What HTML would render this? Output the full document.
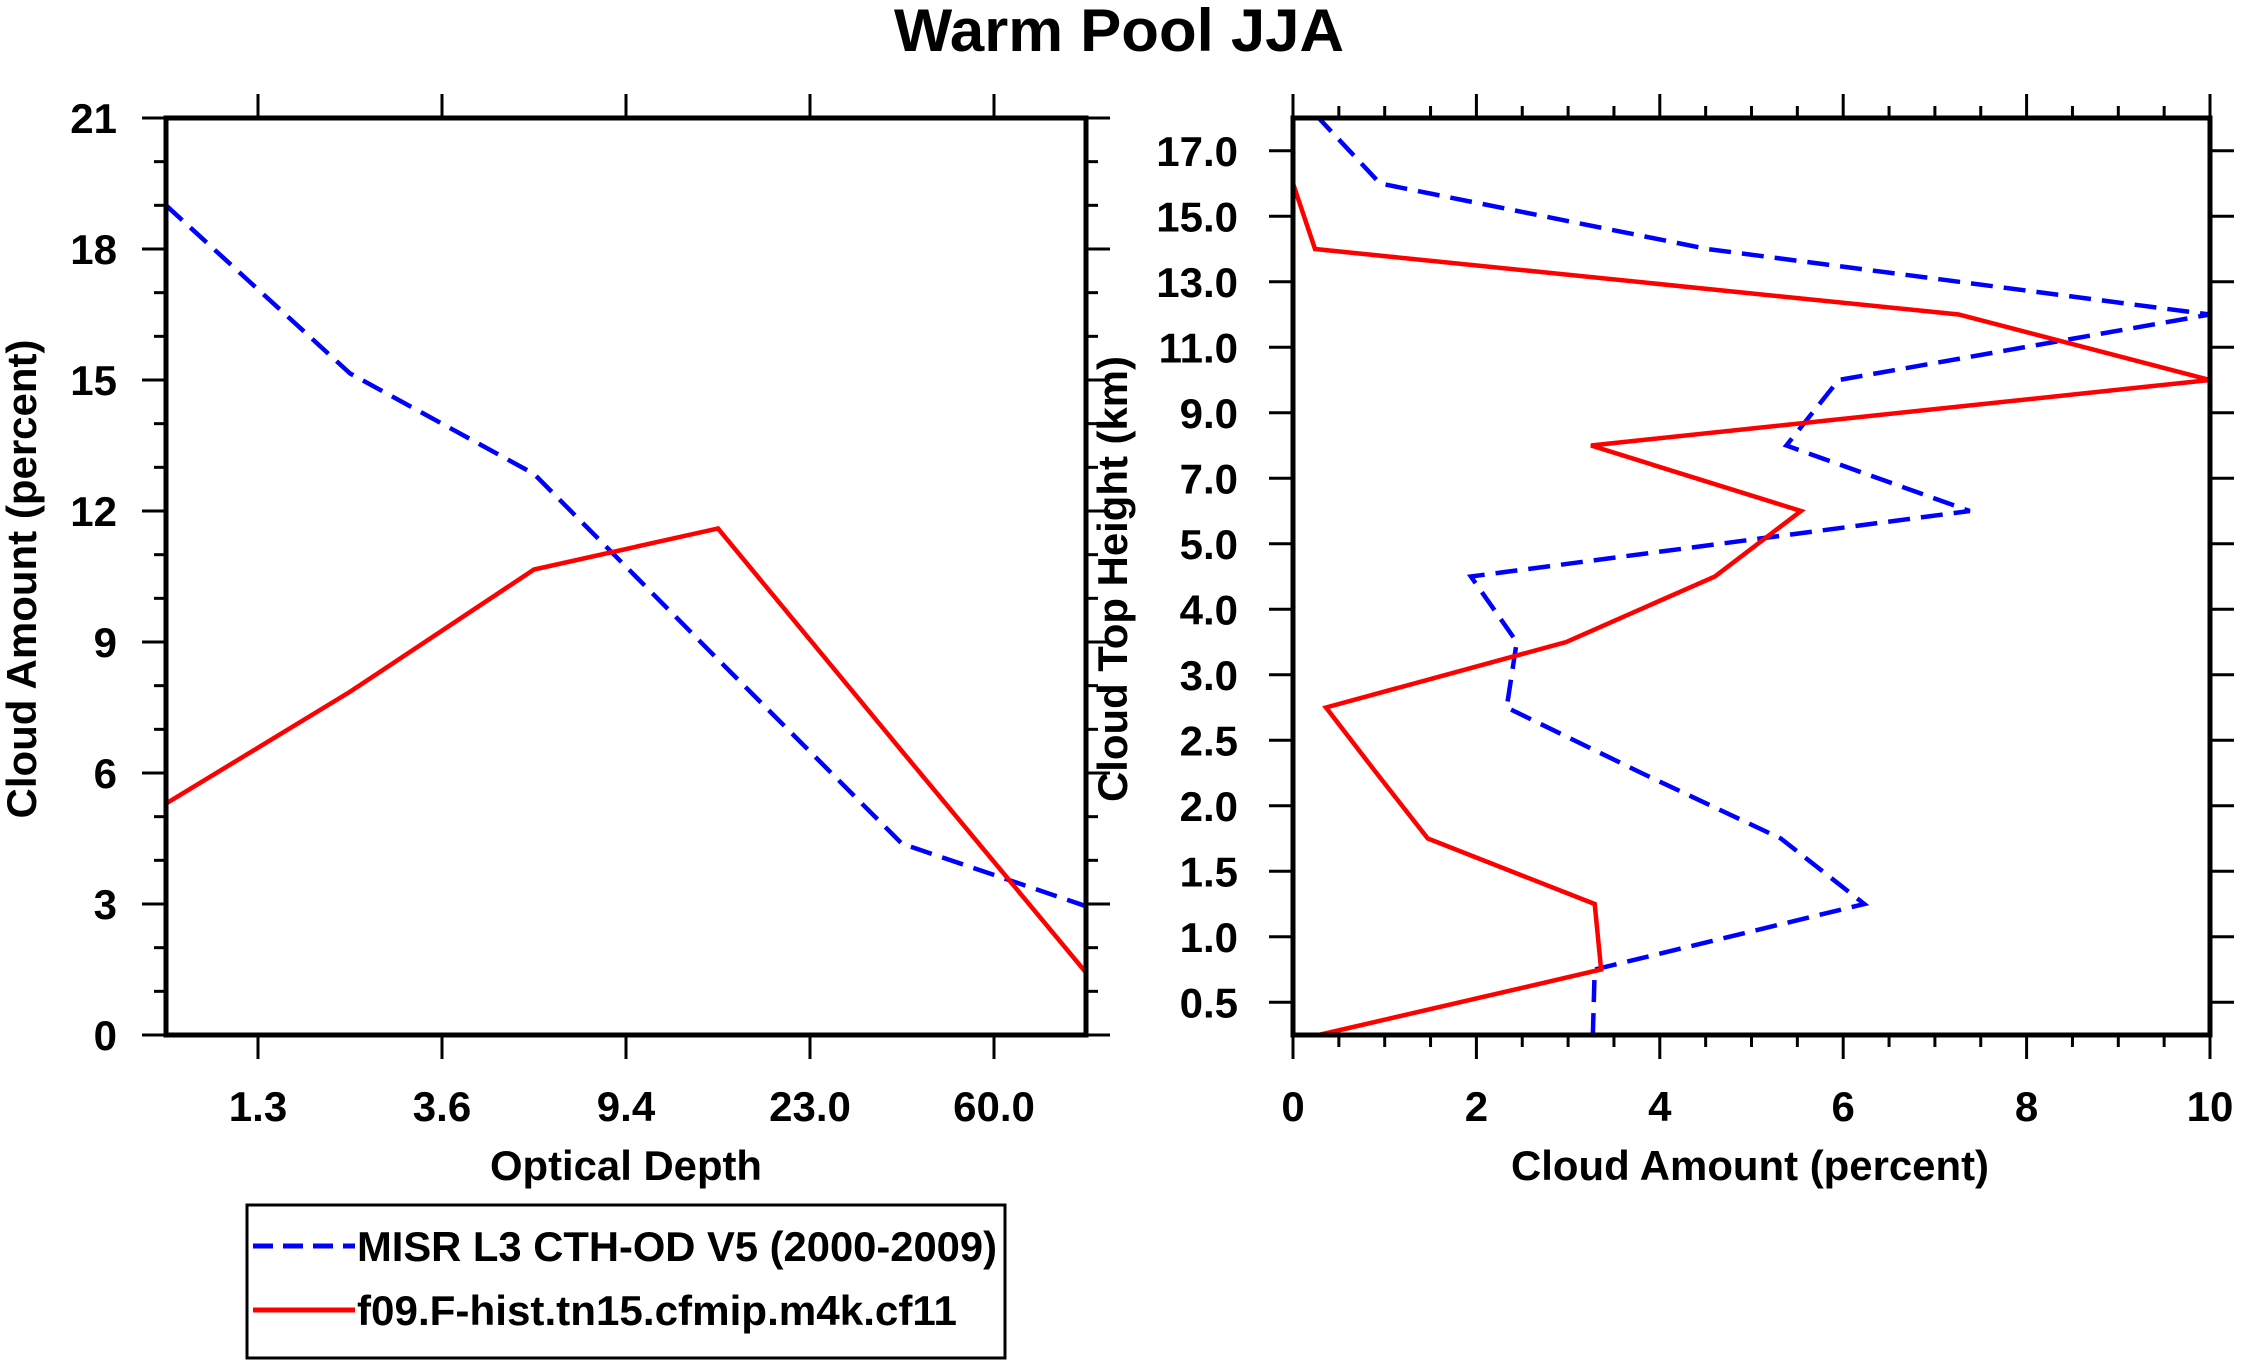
<!DOCTYPE html>
<html><head><meta charset="utf-8"><style>
html,body{margin:0;padding:0;background:#fff;}
svg{display:block;font-family:"Liberation Sans",Arial,sans-serif;font-weight:bold;}
</style></head><body>
<svg id="chart" width="2241" height="1366" viewBox="0 0 2241 1366" xmlns="http://www.w3.org/2000/svg">
<text x="1119" y="51" text-anchor="middle" font-size="60" textLength="450" lengthAdjust="spacingAndGlyphs">Warm Pool JJA</text>
<g id="left"></g>
<g id="right"></g>
<g>
<rect x="247" y="1205" width="758" height="153" fill="none" stroke="#000" stroke-width="3"/>
<line x1="253" y1="1246" x2="355" y2="1246" stroke="#0000ff" stroke-width="5" stroke-dasharray="20,10"/>
<text x="357" y="1261" font-size="42" textLength="640" lengthAdjust="spacingAndGlyphs">MISR L3 CTH-OD V5 (2000-2009)</text>
<line x1="253" y1="1310" x2="355" y2="1310" stroke="#ff0000" stroke-width="5"/>
<text x="357" y="1325" font-size="42" textLength="600" lengthAdjust="spacingAndGlyphs">f09.F-hist.tn15.cfmip.m4k.cf11</text>
</g>
</svg>
<script>
// Left panel data
const odLabels = ['1.3','3.6','9.4','23.0','60.0'];
const odMisr = [19.0, 15.15, 12.85, 8.6, 4.38, 2.95];
const odModel = [5.3, 7.86, 10.66, 11.6, 6.5, 1.43];
const leftYTicks = [0,3,6,9,12,15,18,21];
// Right panel data
const cthLabels = ['0.5','1.0','1.5','2.0','2.5','3.0','4.0','5.0','7.0','9.0','11.0','13.0','15.0','17.0'];
const cthMisr = [3.27,3.29,6.23,5.32,3.8,2.33,2.44,1.94,7.38,5.38,5.95,10.0,4.52,0.95,0.28];
const cthModel = [0.28,3.36,3.29,1.47,0.91,0.36,2.98,4.6,5.54,3.25,10.0,7.26,0.24,0.0,0.0];
const rightXTicks = [0,2,4,6,8,10];

const NS='http://www.w3.org/2000/svg';
function mk(parent,tag,attrs){const e=document.createElementNS(NS,tag);for(const k in attrs)e.setAttribute(k,attrs[k]);parent.appendChild(e);return e;}
function ln(p,x1,y1,x2,y2,w){return mk(p,'line',{x1:x1,y1:y1,x2:x2,y2:y2,stroke:'#000','stroke-width':w});}

const T=118,B=1035;
// ---------- left panel ----------
const L=document.getElementById('left');
const lx0=166,lx1=1086;
const lX=i=>lx0+i*(lx1-lx0)/(odMisr.length-1);
const lY=v=>B-v*(B-T)/21;
for(let v=0;v<=21;v++){
  const len=v%3===0?24:12;
  const t1=ln(L,lx0-len,lY(v),lx0,lY(v),3);
  
  
  const t2=ln(L,lx1,lY(v),lx1+len,lY(v),3);
  
  
}
leftYTicks.forEach(v=>{
  const t=mk(L,'text',{x:117,y:lY(v)+15,'text-anchor':'end','font-size':42});
  t.textContent=String(v);
  
  
});
odLabels.forEach((s,i)=>{
  const x=lX(i+0.5);
  const a=ln(L,x,T-24,x,T,3);
  
  
  const b=ln(L,x,B,x,B+24,3);
  
  
  const t=mk(L,'text',{x:x,y:1121,'text-anchor':'middle','font-size':42});
  t.textContent=s;
  
  
});
function series(p,vals,xf,yf,color,dash,name){
  const pts=vals.map((v,i)=>xf(v,i)+','+yf(v,i)).join(' ');
  const pl=mk(p,'polyline',{points:pts,fill:'none',stroke:color,'stroke-width':4.5,'stroke-linejoin':'miter'});
  if(dash)pl.setAttribute('stroke-dasharray','22,11');
  
  
}
series(L,odMisr,(v,i)=>lX(i),(v)=>lY(v),'#0000ff',true,'left-misr-line');
series(L,odModel,(v,i)=>lX(i),(v)=>lY(v),'#ff0000',false,'left-model-line');
const lf=mk(L,'rect',{x:lx0,y:T,width:lx1-lx0,height:B-T,fill:'none',stroke:'#000','stroke-width':5});


const lt=mk(L,'text',{x:626,y:1180,'text-anchor':'middle','font-size':42,textLength:272,lengthAdjust:'spacingAndGlyphs'});
lt.textContent='Optical Depth';


const ly=mk(L,'text',{x:0,y:0,'text-anchor':'middle','font-size':42,textLength:479,lengthAdjust:'spacingAndGlyphs',transform:'translate(36,579) rotate(-90)'});
ly.textContent='Cloud Amount (percent)';



// ---------- right panel ----------
const R=document.getElementById('right');
const rx0=1293,rx1=2210;
const rX=v=>rx0+v*(rx1-rx0)/10;
const rY=idx=>B-(idx+0.5)*(B-T)/cthLabels.length;
for(let k=0;k<=20;k++){
  const v=k*0.5,len=(k%4===0)?24:12;
  const a=ln(R,rX(v),T-len,rX(v),T,3);
  
  
  const b=ln(R,rX(v),B,rX(v),B+len,3);
  
  
}
rightXTicks.forEach(v=>{
  const t=mk(R,'text',{x:rX(v),y:1121,'text-anchor':'middle','font-size':42});
  t.textContent=String(v);
  
  
});
cthLabels.forEach((s,i)=>{
  const y=rY(i);
  const a=ln(R,rx0-24,y,rx0,y,3);
  
  
  const b=ln(R,rx1,y,rx1+24,y,3);
  
  
  const t=mk(R,'text',{x:1238,y:y+15,'text-anchor':'end','font-size':42});
  t.textContent=s;
  
  
});
series(R,cthMisr,(v)=>rX(v),(v,i)=>rY(i-0.5),'#0000ff',true,'right-misr-line');
series(R,cthModel,(v)=>rX(v),(v,i)=>rY(i-0.5),'#ff0000',false,'right-model-line');
const rf=mk(R,'rect',{x:rx0,y:T,width:rx1-rx0,height:B-T,fill:'none',stroke:'#000','stroke-width':5});


const rt=mk(R,'text',{x:1750,y:1180,'text-anchor':'middle','font-size':42,textLength:478,lengthAdjust:'spacingAndGlyphs'});
rt.textContent='Cloud Amount (percent)';


const ry=mk(R,'text',{x:0,y:0,'text-anchor':'middle','font-size':42,textLength:446,lengthAdjust:'spacingAndGlyphs',transform:'translate(1127,579) rotate(-90)'});
ry.textContent='Cloud Top Height (km)';


</script>
</body></html>
